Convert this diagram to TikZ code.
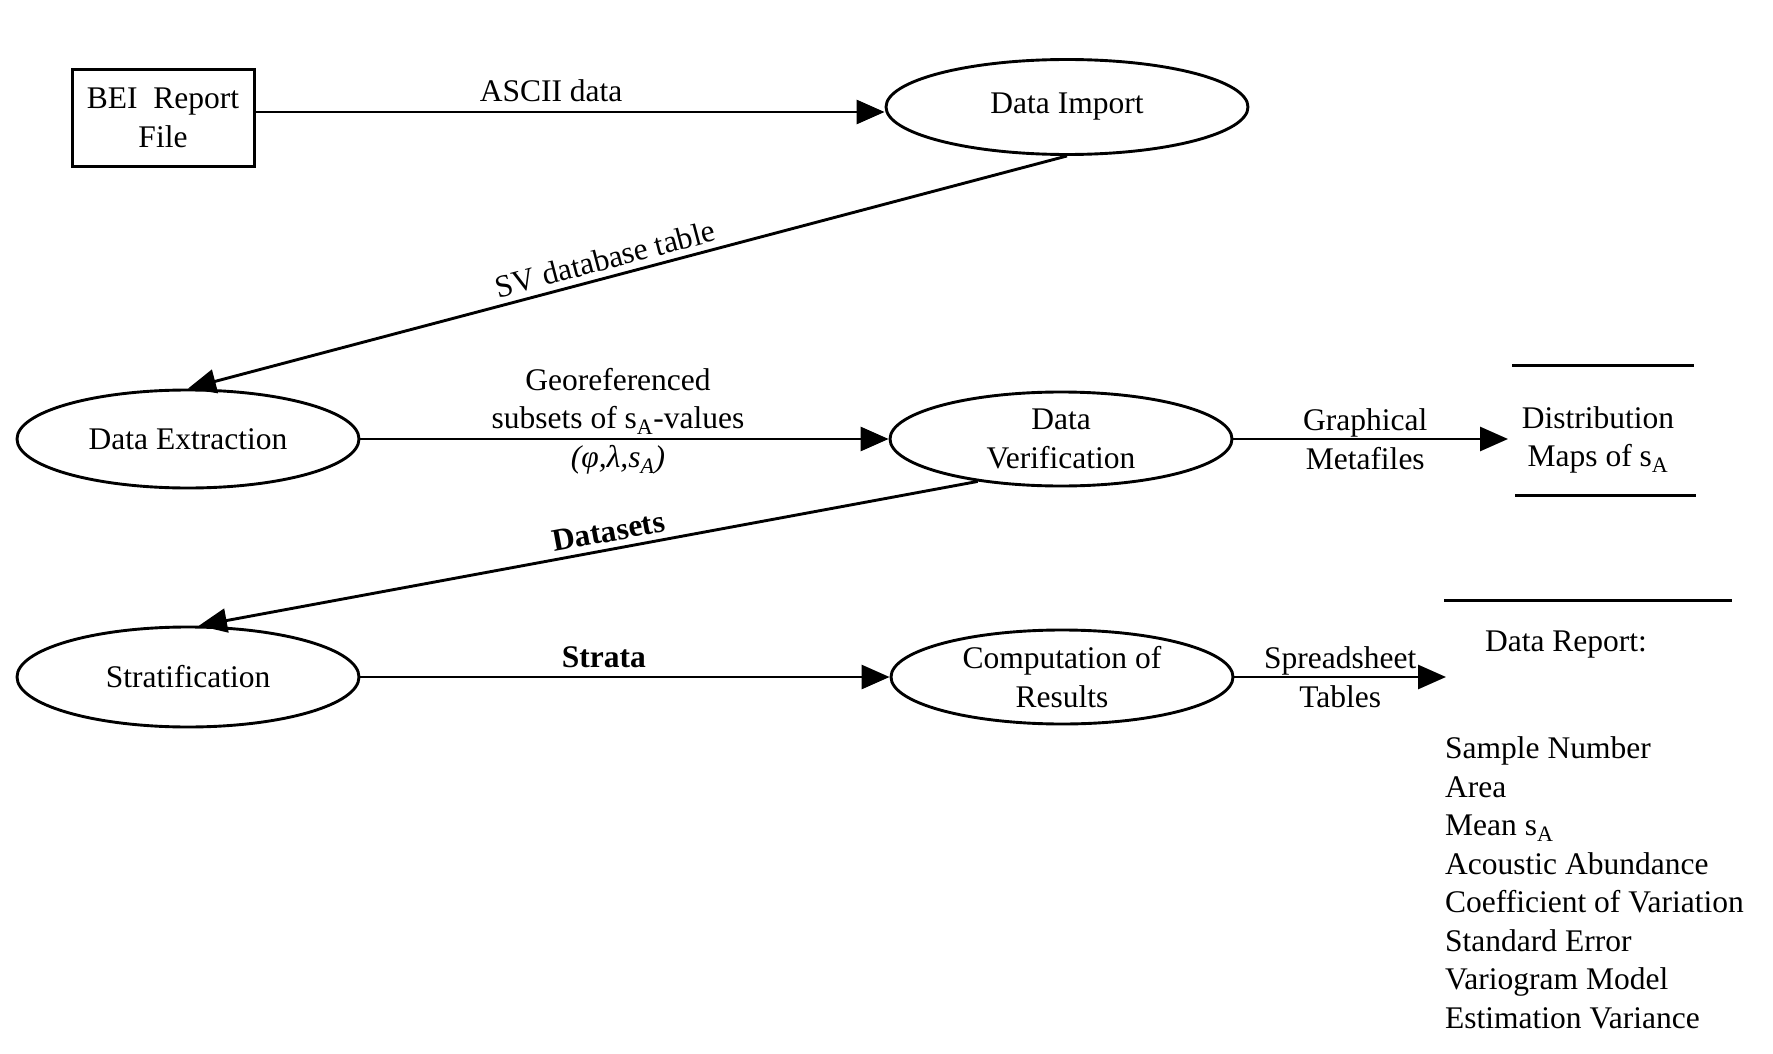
\documentclass[tikz,border=0pt]{standalone}
\usepackage{fontspec}
\setmainfont{Liberation Serif}
\usetikzlibrary{shapes.geometric,arrows.meta}
\tikzset{
  base/.style={font=\fontsize{31.5}{38.5}\selectfont, align=center, inner sep=0pt},
  proc/.style={base, ellipse, draw, line width=2.9pt, minimum width=342pt, minimum height=96pt},
  srcbox/.style={base, rectangle, draw, line width=3pt, minimum width=182pt, minimum height=97pt},
  flow/.style={line width=2.9pt, -{Triangle[length=28pt,width=24pt]}},
  lbl/.style={base},
  rule/.style={line width=3pt}
}
\begin{document}
\begin{tikzpicture}[x=1pt,y=-1pt]
\useasboundingbox (0,0) rectangle (1773,1054);
\fill[white] (0,0) rectangle (1773,1054);

% nodes
\node[srcbox] (bei) at (163,118) {BEI\ \ Report\\File};
\node[proc, minimum width=362pt, minimum height=95pt] (imp) at (1067,107) {Data Import};
\node[proc, minimum height=98pt] (ext) at (188,439) {Data Extraction};
\node[proc, minimum height=94pt] (ver) at (1061,439) {Data\\Verification};
\node[proc, minimum height=100pt] (strat) at (188,677) {Stratification};
\node[proc, minimum height=94pt] (comp) at (1062,677) {Computation of\\Results};

\node[base] (dist) at (1598,440) {Distribution\\Maps of s\textsubscript{A}};
\coordinate (disttip) at (1508,439);
\draw[rule] (1512,365) -- (1694,365);
\draw[rule] (1515,495) -- (1696,495);

\node[base] (rep) at (1566,645) {Data Report:};
\coordinate (repline1) at (1444,600);
\coordinate (repline2) at (1732,600);
\draw[rule] (repline1) -- (repline2);
\node[base, align=left, anchor=west] (list) at (1445,883) {Sample Number\\Area\\Mean s\textsubscript{A}\\Acoustic Abundance\\Coefficient of Variation\\Standard Error\\Variogram Model\\Estimation Variance};

\coordinate (reptip) at (1446,677);
\coordinate (impin) at ([yshift=-5pt]imp.west);

% connectors
\draw[flow] (bei.east |- impin) -- node[lbl, pos=0.47, above=9pt] {ASCII data} (impin);
\draw[flow] (imp.south) -- node[lbl, pos=0.52, sloped, above=6pt] {SV database table} (ext.north);
\draw[flow] (ext.east) -- (ver.west);
\node[lbl] (geo) at (618,421) {Georeferenced\\subsets of s\textsubscript{A}-values\\\textit{(φ,λ,s\textsubscript{A})}};
\draw[flow] (ver.east) -- node[lbl, pos=0.48] {Graphical\\Metafiles} (disttip);
\draw[flow] (ver.207) -- node[lbl, pos=0.47, sloped, above=6pt] {\textbf{Datasets}} (strat.78);
\draw[flow] (strat.east) -- node[lbl, pos=0.46, above=8pt] {\textbf{Strata}} (comp.west);
\draw[flow] (comp.east) -- node[lbl, pos=0.5] {Spreadsheet\\Tables} (reptip);
\end{tikzpicture}
\end{document}
